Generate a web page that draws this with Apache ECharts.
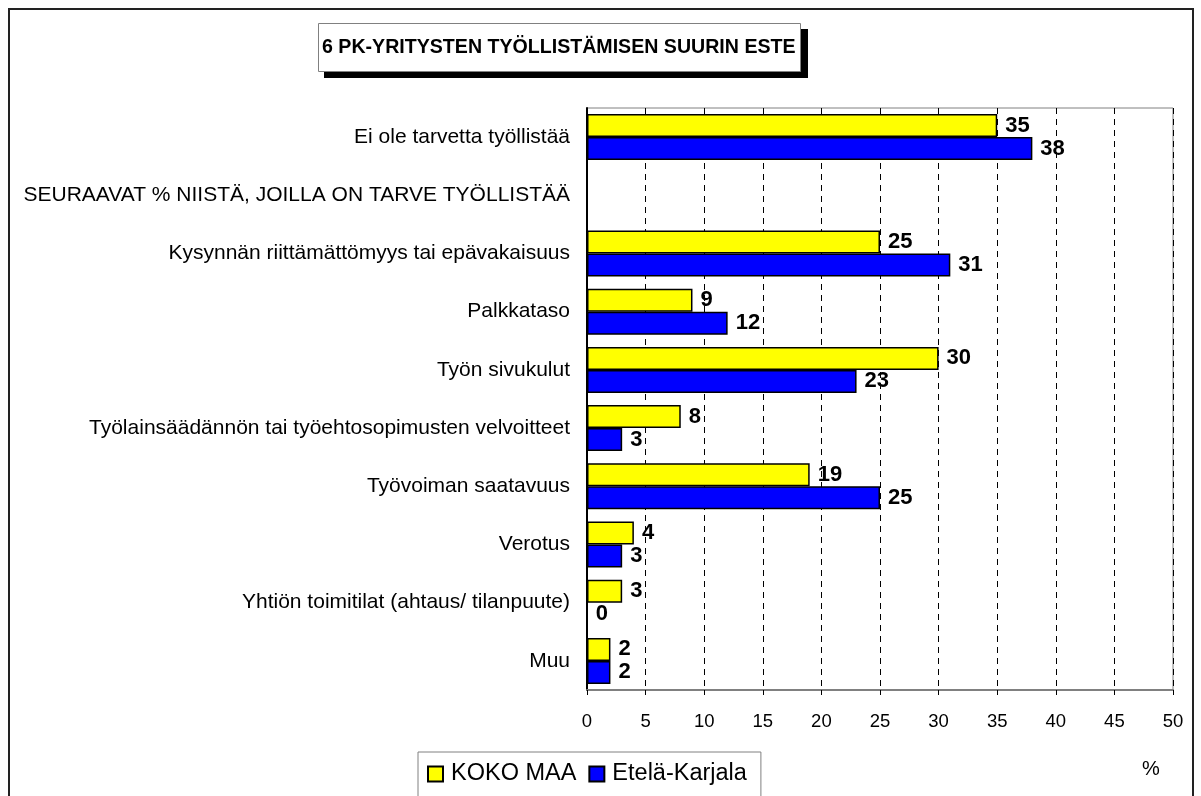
<!DOCTYPE html>
<html>
<head>
<meta charset="utf-8">
<script src="https://cdn.jsdelivr.net/npm/echarts@6/dist/echarts.min.js"></script>
<style>
    html, body { margin: 0; padding: 0; background: #fff; }
    #chart { width: 1201px; height: 796px; }
</style>
</head>
<body>
<div id="chart"></div>
<script>
// kategoriat ylhäältä alas
const categories = [
    'Ei ole tarvetta työllistää',
    'SEURAAVAT % NIISTÄ, JOILLA ON TARVE TYÖLLISTÄÄ',
    'Kysynnän riittämättömyys tai epävakaisuus',
    'Palkkataso',
    'Työn sivukulut',
    'Työlainsäädännön tai työehtosopimusten velvoitteet',
    'Työvoiman saatavuus',
    'Verotus',
    'Yhtiön toimitilat (ahtaus/ tilanpuute)',
    'Muu'
];
const kokoMaa = [35, null, 25, 9, 30, 8, 19, 4, 3, 2];
const etelaKarjala = [38, null, 31, 12, 23, 3, 25, 3, 0, 2];
const seriesNames = ['KOKO MAA', 'Etelä-Karjala'];
const titleText = '6 PK-YRITYSTEN TYÖLLISTÄMISEN SUURIN ESTE';

const FONT = '"Liberation Sans", Arial, sans-serif';

const chart = echarts.init(document.getElementById('chart'), null, { renderer: 'canvas' });

const valueLabel = {
    show: true,
    position: 'right',
    distance: 8,
    color: '#000',
    fontSize: 22,
    fontWeight: 'bold',
    fontFamily: FONT
};

chart.setOption({
    animation: false,
    backgroundColor: '#fff',
    textStyle: { fontFamily: FONT },
    title: {
        text: titleText,
        left: 318,
        top: 23,
        padding: [14, 5, 14, 4],
        backgroundColor: '#fff',
        borderColor: '#808080',
        borderWidth: 1,
        textStyle: { fontSize: 19.6, fontWeight: 'bold', color: '#000', fontFamily: FONT, lineHeight: 21 },
        z: 10
    },
    legend: {
        data: seriesNames,
        left: 418,
        top: 752,
        padding: [10, 14, 30, 9],
        itemGap: 12,
        itemWidth: 15,
        itemHeight: 15,
        icon: 'rect',
        borderColor: '#808080',
        borderWidth: 1,
        textStyle: { fontSize: 23.5, color: '#000', fontFamily: FONT, padding: [0, 0, 0, 3] }
    },
    grid: {
        left: 587,
        right: 28,
        top: 108,
        bottom: 106,
        show: true,
        borderColor: '#808080',
        borderWidth: 1
    },
    xAxis: {
        type: 'value',
        min: 0,
        max: 50,
        interval: 5,
        axisLine: { show: true, lineStyle: { color: '#808080', width: 2 } },
        axisTick: { show: true, length: 5, lineStyle: { color: '#000' } },
        axisLabel: { color: '#000', fontSize: 18.5, margin: 22, fontFamily: FONT },
        splitLine: { show: true, lineStyle: { color: '#000', type: [6, 5], width: 1 } }
    },
    yAxis: {
        type: 'category',
        inverse: true,
        data: categories,
        axisLine: { show: true, lineStyle: { color: '#000', width: 2 } },
        axisTick: { show: false },
        axisLabel: { color: '#000', fontSize: 21, margin: 17, fontFamily: FONT },
        splitLine: { show: false }
    },
    series: [
        {
            name: seriesNames[0],
            type: 'bar',
            data: kokoMaa,
            barGap: '0%',
            barCategoryGap: '21%',
            itemStyle: { color: '#ffff00', borderColor: '#000', borderWidth: 1.5 },
            label: valueLabel
        },
        {
            name: seriesNames[1],
            type: 'bar',
            data: etelaKarjala,
            itemStyle: { color: '#0000ff', borderColor: '#000', borderWidth: 1.5 },
            label: valueLabel
        }
    ],
    graphic: [
        {
            type: 'rect',
            shape: { x: 9, y: 9, width: 1184, height: 800 },
            style: { fill: null, stroke: '#222', lineWidth: 2 },
            silent: true,
            z: -1
        },
        {
            // otsikon varjo
            type: 'rect',
            shape: { x: 324, y: 29, width: 484, height: 49 },
            style: { fill: '#000' },
            silent: true,
            z: 5
        },
        {
            type: 'text',
            left: 1142,
            top: 759,
            style: { text: '%', fontSize: 20, fill: '#000', fontFamily: FONT }
        }
    ]
});
</script>
</body>
</html>
